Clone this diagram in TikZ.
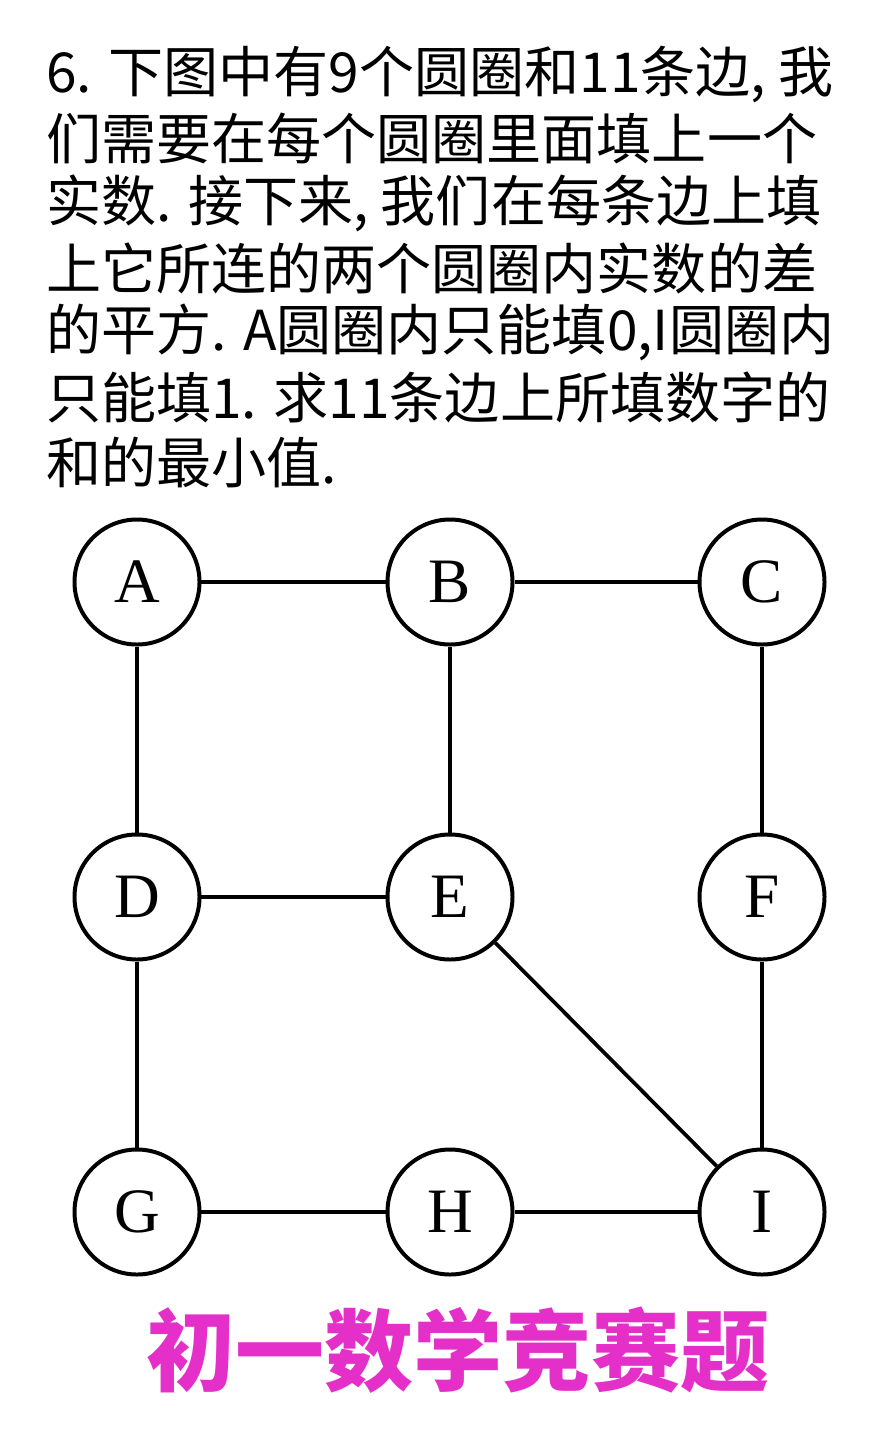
\documentclass[tikz,border=0pt]{standalone}
\usepackage{fontspec}
\newfontfamily\cjk{Noto Sans CJK SC}
\newfontfamily\lettr{Liberation Serif}
\begin{document}
\begin{tikzpicture}[x=0.03cm,y=-0.03cm,
    vert/.style={circle, draw, line width=3.4pt, minimum size=3.75cm, inner sep=0pt,
                 font=\lettr\fontsize{54}{58}\selectfont},
    edge/.style={line width=3.2pt},
    txt/.style={anchor=west, inner sep=0pt, font=\cjk\fontsize{47}{50}\selectfont}]
  \useasboundingbox (0,0) rectangle (880,1435);

  % question text
  \node[txt] (l1) at (46,75)  {6. 下图中有9个圆圈和11条边, 我};
  \node[txt] (l2) at (46,138) {们需要在每个圆圈里面填上一个};
  \node[txt] (l3) at (46,203) {实数. 接下来, 我们在每条边上填};
  \node[txt] (l4) at (46,268) {上它所连的两个圆圈内实数的差};
  \node[txt] (l5) at (46,332) {的平方. A圆圈内只能填0,I圆圈内};
  \node[txt] (l6) at (46,397) {只能填1. 求11条边上所填数字的};
  \node[txt] (l7) at (46,462) {和的最小值.};

  % circles
  \node[vert] (A) at (137,582)  {A};
  \node[vert] (B) at (450,582)  {B};
  \node[vert] (C) at (762,582)  {C};
  \node[vert] (D) at (137,897)  {D};
  \node[vert] (E) at (450,897)  {E};
  \node[vert] (F) at (762,897)  {F};
  \node[vert] (G) at (137,1212) {G};
  \node[vert] (H) at (450,1212) {H};
  \node[vert] (I) at (762,1212) {I};

  % edges
  \draw[edge] (A) -- (B);
  \draw[edge] (B) -- (C);
  \draw[edge] (A) -- (D);
  \draw[edge] (B) -- (E);
  \draw[edge] (C) -- (F);
  \draw[edge] (D) -- (E);
  \draw[edge] (D) -- (G);
  \draw[edge] (E) -- (I);
  \draw[edge] (F) -- (I);
  \draw[edge] (G) -- (H);
  \draw[edge] (H) -- (I);

  % title
  \definecolor{titlepink}{RGB}{228,48,200}
  \node[font=\cjk\bfseries\fontsize{76}{80}\selectfont, text=titlepink] (T) at (458,1350) {初一数学竞赛题};
\end{tikzpicture}
\end{document}
